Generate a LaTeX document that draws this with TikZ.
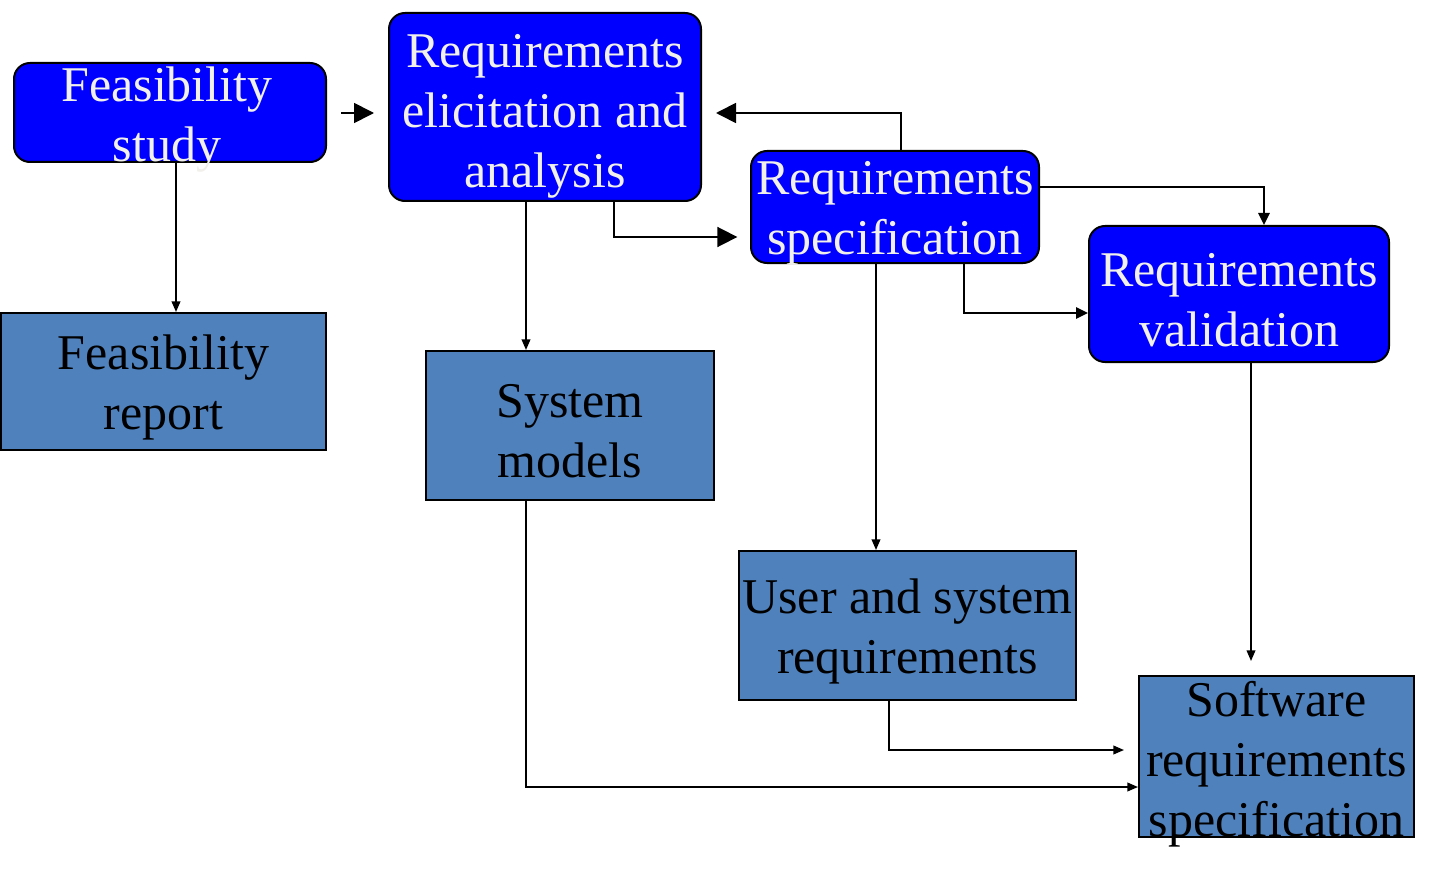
\documentclass[tikz,border=0pt]{standalone}
\usepackage{fontspec}
\setmainfont{Liberation Serif}
\usetikzlibrary{arrows.meta,calc}
\definecolor{myblue}{RGB}{0,0,255}
\definecolor{mysteel}{RGB}{79,129,189}
\definecolor{mywhite}{RGB}{242,240,234}

\begin{document}
\begin{tikzpicture}[x=0.75pt,y=-0.75pt]
\tikzset{procbox/.style ={draw=black, line width=1.5pt, fill=myblue, rounded corners=12pt, inner sep=0pt}}
\tikzset{docbox/.style ={draw=black, line width=1.5pt, fill=mysteel, inner sep=0pt}}
\tikzset{boxtext/.style ={align=center, inner sep=0pt, yshift=-4.5pt, font=\fontsize{37.5}{45}\selectfont}}
\tikzset{flow/.style ={line width=1.3pt, -{Triangle[length=8pt,width=6.5pt]}}}
\tikzset{bigflow/.style ={line width=1.3pt, -{Triangle[length=15pt,width=15pt]}}}
\tikzset{midflow/.style ={line width=1.3pt, -{Triangle[length=9pt,width=8.5pt]}}}
\useasboundingbox (0,0) rectangle (1437,877);
% activities
\node[procbox, minimum width=312*0.75pt, minimum height=99*0.75pt] (fs) at (170,112.5) {};
\node[procbox, minimum width=312*0.75pt, minimum height=188*0.75pt] (rea) at (545,107) {};
\node[procbox, minimum width=288*0.75pt, minimum height=112*0.75pt] (rs) at (895,207) {};
\node[procbox, minimum width=300*0.75pt, minimum height=136*0.75pt] (rv) at (1239,294) {};
% documents
\node[docbox, minimum width=325*0.75pt, minimum height=137*0.75pt] (fr) at (163.5,381.5) {};
\node[docbox, minimum width=288*0.75pt, minimum height=149*0.75pt] (sm) at (570,425.5) {};
\node[docbox, minimum width=337*0.75pt, minimum height=149*0.75pt] (usr) at (907.5,625.5) {};
\node[docbox, minimum width=275*0.75pt, minimum height=161*0.75pt] (srs) at (1276.5,756.5) {};
% texts
\node[boxtext, text=mywhite] (fs-t) at ($(fs.center)+(-3,1)$) {Feasibility\\study};
\node[boxtext, text=mywhite] (rea-t) at ($(rea.center)+(0,3)$) {Requirements\\elicitation and\\analysis};
\node[boxtext, text=mywhite] (rs-t) at (rs.center) {Requirements\\specification};
\node[boxtext, text=mywhite] (rv-t) at (rv.center) {Requirements\\validation};
\node[boxtext] (fr-t) at (fr.center) {Feasibility\\report};
\node[boxtext] (sm-t) at (sm.center) {System\\models};
\node[boxtext] (usr-t) at (usr.center) {User and system\\requirements};
\node[boxtext] (srs-t) at ($(srs.center)+(0,2)$) {Software\\requirements\\specification};
% process flow
\draw[bigflow, shorten <=10.5pt, shorten >=10.5pt] ($(fs.east)+(0,0.5)$) -- ($(fs.east -| rea.west)+(0,0.5)$);
\draw[bigflow, shorten >=9.5pt] ($(rea.south)+(69,0)$) |- ($(rs.west)+(0,30)$);
\draw[bigflow, shorten >=10.5pt] ($(rs.north)+(6,0)$) |- ($(rea.east)+(0,6)$);
\draw[midflow] ($(rs.east)+(0,-20)$) -| ($(rv.north)+(25,0)$);
\draw[midflow] ($(rs.south)+(69,0)$) |- ($(rv.west)+(0,19)$);
% document flow
\draw[flow] ($(fs.south)+(6,0)$) coordinate (fsb) -- (fsb |- fr.north);
\draw[flow] ($(rea.south)+(-19,0)$) coordinate (reab) -- (reab |- sm.north);
\draw[flow] ($(rs.south)+(-19,0)$) coordinate (rsb) -- (rsb |- usr.north);
\draw[flow, shorten >=10.5pt] ($(rv.south)+(12,0)$) coordinate (rvb) -- (rvb |- srs.north);
\draw[flow, shorten >=10.5pt] ($(usr.south)+(-18.5,0)$) |- ($(srs.west)+(0,-6.5)$);
\draw[flow] ($(sm.south)+(-44,0)$) |- ($(srs.west)+(0,30.5)$);
\end{tikzpicture}
\end{document}
